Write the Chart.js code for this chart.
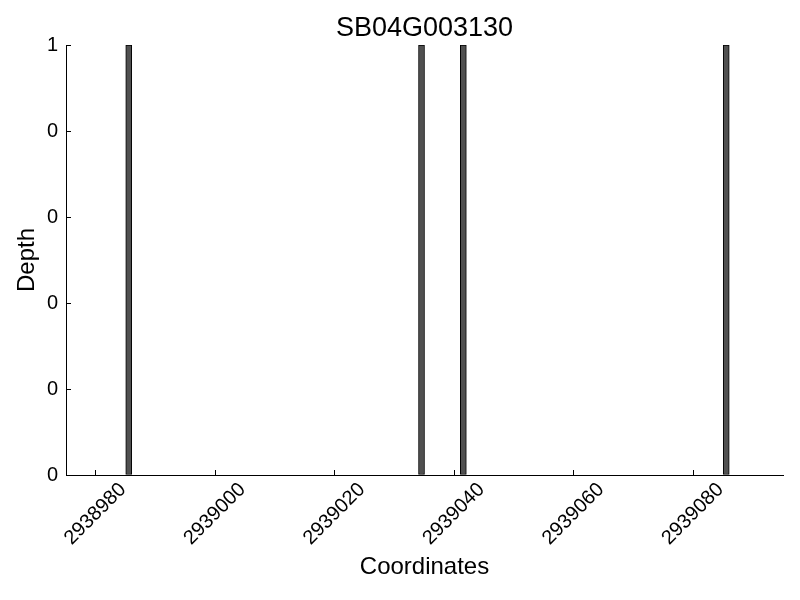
<!DOCTYPE html>
<html>
<head>
<meta charset="utf-8">
<title>SB04G003130</title>
<script src="https://cdn.jsdelivr.net/npm/chart.js@4.4.1/dist/chart.umd.min.js"></script>
<style>
  html, body { margin: 0; padding: 0; background: #ffffff; }
  #chart-wrap { width: 800px; height: 600px; }
</style>
</head>
<body>
<div id="chart-wrap"><canvas id="my-chart" width="800" height="600"></canvas></div>
<script>
'use strict';

// ******** DATA **************
let geneName = 'SB04G003130';
let coordinates = [2938985, 2939034, 2939041, 2939085];
let depths = [1, 1, 1, 1];

let xTickValues = [2938980, 2939000, 2939020, 2939040, 2939060, 2939080];
let yTickValues = [0, 0.2, 0.4, 0.6, 0.8, 1];
let yTickLabels = ['0', '0', '0', '0', '0', '1'];

let xMin = 2938975;
let xMax = 2939095;

// ********* DOM REFERENCES ****************
let canvasElem = document.getElementById('my-chart');

let fontName = '"Liberation Sans", Arial, sans-serif';

// each bar covers one base, so its centre is half a base to the right
let barPoints = [];
for (let i = 0; i < coordinates.length; i++) {
  barPoints.push({ x: coordinates[i] + 0.5, y: depths[i] });
}

// *** CONFIG OBJECT ***
let myObj = {
  type: 'bar',
  data: {
    datasets: [{
      label: 'Depth',
      data: barPoints,
      backgroundColor: '#505050',
      borderColor: '#000000',
      borderWidth: 1,
      borderSkipped: false,
      barThickness: 6
    }]
  },
  options: {
    responsive: false,
    animation: false,
    layout: {
      padding: { left: 0, right: 17, top: 0, bottom: 0 }
    },
    plugins: {
      legend: { display: false },
      tooltip: { enabled: false },
      title: {
        display: true,
        text: geneName,
        fullSize: false,
        color: '#000000',
        font: { family: fontName, size: 27, weight: 'normal' },
        padding: { top: 12.6, bottom: 0 }
      }
    },
    scales: {
      x: {
        type: 'linear',
        min: xMin,
        max: xMax,
        offset: false,
        afterBuildTicks: function (scale) {
          scale.ticks = xTickValues.map(function (v) { return { value: v }; });
        },
        afterFit: function (scale) {
          scale.height = 125;
        },
        grid: {
          offset: false,
          drawOnChartArea: false,
          drawTicks: true,
          tickLength: -5,
          tickColor: '#000000'
        },
        border: { display: true, color: '#000000', width: 1 },
        ticks: {
          color: '#000000',
          font: { family: fontName, size: 20 },
          minRotation: 45,
          maxRotation: 45,
          labelOffset: 27,
          padding: 8,
          callback: function (value) { return String(value); }
        },
        title: {
          display: true,
          text: 'Coordinates',
          color: '#000000',
          font: { family: fontName, size: 24 },
          padding: { top: 0, bottom: 18 }
        }
      },
      y: {
        min: 0,
        max: 1,
        afterBuildTicks: function (scale) {
          scale.ticks = yTickValues.map(function (v) { return { value: v }; });
        },
        afterFit: function (scale) {
          scale.width = 66;
        },
        grid: {
          drawOnChartArea: false,
          drawTicks: true,
          tickLength: -5,
          tickColor: '#000000'
        },
        border: { display: true, color: '#000000', width: 1 },
        ticks: {
          color: '#000000',
          font: { family: fontName, size: 20 },
          padding: 13,
          callback: function (value, index) { return yTickLabels[index]; }
        },
        title: {
          display: true,
          text: 'Depth',
          color: '#000000',
          font: { family: fontName, size: 24 },
          padding: { top: 13, bottom: 0 }
        }
      }
    }
  }
};

// *** CONSTRUCTOR CALL TO RENDER THE CHART ***
new Chart(canvasElem, myObj);
</script>
</body>
</html>
